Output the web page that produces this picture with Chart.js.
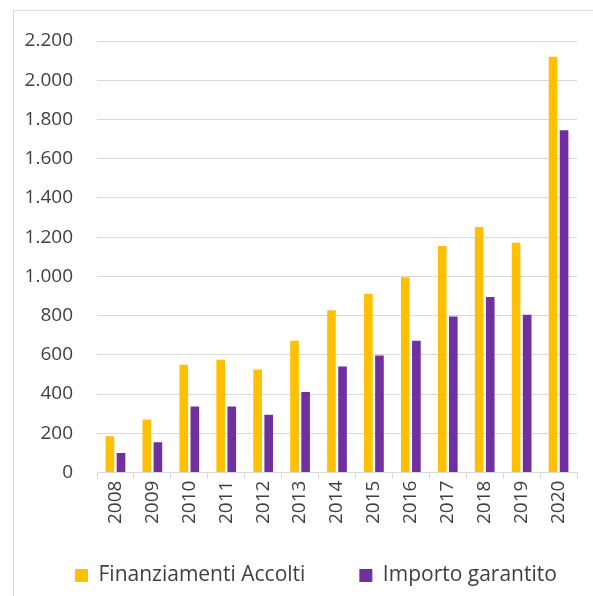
<!DOCTYPE html>
<html>
<head>
<meta charset="utf-8">
<script src="https://cdn.jsdelivr.net/npm/chart.js@4.4.1/dist/chart.umd.min.js"></script>
<style>
  html, body { margin: 0; padding: 0; background: #fff; }
  #wrap { position: relative; width: 593px; height: 596px; overflow: hidden; }
  #frame { position: absolute; left: 13px; top: 10px; width: 700px; height: 700px; border: 1px solid #d9d9d9; box-sizing: border-box; }
  #wrap canvas { position: absolute; left: 0; top: 0; }
</style>
</head>
<body>
<div id="wrap">
  <div id="frame"></div>
  <canvas id="chart" width="593" height="596"></canvas>
</div>
<script>
var years = ["2008", "2009", "2010", "2011", "2012", "2013", "2014", "2015", "2016", "2017", "2018", "2019", "2020"];
var finanziamenti = [185, 270, 550, 575, 525, 672, 827, 912, 995, 1155, 1252, 1172, 2120];
var importo = [100, 155, 337, 337, 295, 410, 541, 597, 672, 796, 895, 805, 1745];
var seriesNames = ["Finanziamenti Accolti", "Importo garantito"];

var textColor = "#404040";
var gridColor = "#d9d9d9";
var font = "'Open Sans', 'Noto Sans', sans-serif";
var legendGap = 54;

// italian thousands separator, 2200 -> 2.200
function fmt(v) {
    return String(v).replace(/\B(?=(\d{3})+(?!\d))/g, ".");
}

// legend: one row with a wide gap between the items, short box,
// first item starting where the original one does
var legendTweak = {
    id: "legendTweak",
    afterInit: function(chart) {
        var lg = chart.legend;
        var fit = lg.fit;
        lg.fit = function() {
            var mw = this.maxWidth;
            this.maxWidth = 1000;
            fit.call(this);
            this.maxWidth = mw;
            this.width = mw;
            this.height = 70;
        };
    },
    beforeDraw: function(chart) {
        var lg = chart.legend;
        lg.left = 75 - legendGap;
        lg.right = 1000;
        lg.top = 576 - legendGap - 11;
        lg.bottom = chart.height;
    }
};

var ctx = document.getElementById("chart");
new Chart(ctx, {
    type: "bar",
    data: {
        labels: years,
        datasets: [
            {
                label: seriesNames[0],
                data: finanziamenti,
                backgroundColor: "#ffc000",
                categoryPercentage: 0.6,
                barPercentage: 0.78
            },
            {
                label: seriesNames[1],
                data: importo,
                backgroundColor: "#7030a0",
                categoryPercentage: 0.6,
                barPercentage: 0.78
            }
        ]
    },
    options: {
        responsive: false,
        animation: false,
        layout: {
            padding: { left: 16, right: 16, top: 41, bottom: 0 }
        },
        scales: {
            x: {
                grid: {
                    drawOnChartArea: false,
                    drawTicks: true,
                    tickLength: 6,
                    color: gridColor
                },
                border: { color: gridColor },
                ticks: {
                    color: textColor,
                    font: { family: font, size: 19 },
                    minRotation: 90,
                    maxRotation: 90,
                    padding: 2
                }
            },
            y: {
                min: 0,
                max: 2200,
                afterFit: function(scale) { scale.width = 81; },
                grid: { color: gridColor, drawTicks: false },
                border: { display: false },
                ticks: {
                    stepSize: 200,
                    padding: 24,
                    color: textColor,
                    font: { family: font, size: 19 },
                    callback: function(v) { return fmt(v); }
                }
            }
        },
        plugins: {
            legend: {
                position: "bottom",
                align: "start",
                labels: {
                    color: textColor,
                    font: { family: font, size: 21 },
                    boxWidth: 13,
                    boxHeight: 13,
                    padding: legendGap
                }
            },
            tooltip: { enabled: false }
        }
    },
    plugins: [legendTweak]
});
</script>
</body>
</html>
